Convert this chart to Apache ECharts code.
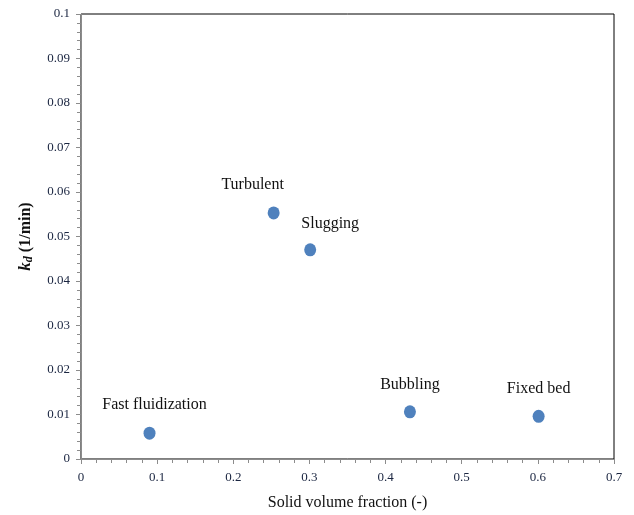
<!DOCTYPE html>
<html>
<head>
<meta charset="utf-8">
<script src="https://cdn.jsdelivr.net/npm/echarts@6/dist/echarts.min.js"></script>
<style>
  html, body { margin: 0; padding: 0; background: #fff; }
  #chart { width: 634px; height: 515px; }
</style>
</head>
<body>
<div id="chart"></div>
<script>
// Flow regimes and their measured deactivation constants
const regimes = ['Fast fluidization', 'Turbulent', 'Slugging', 'Bubbling', 'Fixed bed'];
const solidFraction = [0.09, 0.253, 0.301, 0.432, 0.601];
const kd = [0.0058, 0.0553, 0.047, 0.0106, 0.0096];

// Where each regime name sits relative to its marker
const labelOffsets = {
  'Fast fluidization': [5, -28],
  'Turbulent': [-21, -28],
  'Slugging': [20, -26],
  'Bubbling': [0, -27],
  'Fixed bed': [0, -27]
};

const serif = '"Liberation Serif", "Times New Roman", serif';

const points = regimes.map((name, i) => ({
  name: name,
  value: [solidFraction[i], kd[i]],
  label: { offset: labelOffsets[name] }
}));

const chart = echarts.init(document.getElementById('chart'), null, { renderer: 'canvas' });
chart.setOption({
  animation: false,
  backgroundColor: '#fff',
  grid: {
    left: 81, right: 20, top: 14, bottom: 56,
    outerBoundsMode: 'none',
    containLabel: false,
    show: true, borderColor: '#000', borderWidth: 1, backgroundColor: 'transparent'
  },
  xAxis: {
    type: 'value', min: 0, max: 0.7, interval: 0.1,
    name: 'Solid volume fraction (-)',
    nameLocation: 'middle', nameGap: 36,
    nameTextStyle: { fontFamily: serif, fontSize: 16, color: '#111' },
    axisLine: { show: true, lineStyle: { color: '#8c8c8c', width: 1 } },
    axisTick: { show: true, inside: false, length: 5, lineStyle: { color: '#8c8c8c' } },
    minorTick: { show: true, splitNumber: 5, length: 4, lineStyle: { color: '#8c8c8c' } },
    axisLabel: { fontFamily: serif, fontSize: 13, color: '#1a2540', margin: 12,
      formatter: v => String(+v.toFixed(2)) },
    splitLine: { show: false }
  },
  yAxis: {
    type: 'value', min: 0, max: 0.1, interval: 0.01,
    name: '{k|k}{d|d}{n| (1/min)}',
    nameLocation: 'middle', nameGap: 46, nameRotate: 90,
    nameTextStyle: {
      fontFamily: serif, fontSize: 16, color: '#111', fontWeight: 'bold',
      rich: {
        k: { fontFamily: serif, fontSize: 17, fontWeight: 'bold', fontStyle: 'italic', color: '#111' },
        d: { fontFamily: serif, fontSize: 12, fontWeight: 'bold', fontStyle: 'italic', color: '#111', verticalAlign: 'bottom', padding: [7, 0, 0, 0] },
        n: { fontFamily: serif, fontSize: 16, fontWeight: 'bold', color: '#111' }
      }
    },
    axisLine: { show: true, lineStyle: { color: '#8c8c8c', width: 1 } },
    axisTick: { show: true, inside: false, length: 5, lineStyle: { color: '#8c8c8c' } },
    minorTick: { show: true, splitNumber: 5, length: 4, lineStyle: { color: '#8c8c8c' } },
    axisLabel: { fontFamily: serif, fontSize: 13, color: '#1a2540', margin: 11,
      formatter: v => String(+v.toFixed(2)) },
    splitLine: { show: false }
  },
  series: [{
    type: 'scatter',
    data: points,
    symbol: 'circle',
    symbolSize: [12, 13],
    itemStyle: { color: '#4f81bd', opacity: 1 },
    label: {
      show: true,
      position: 'inside',
      formatter: p => p.name,
      fontFamily: serif, fontSize: 16, color: '#111', opacity: 1
    }
  }]
});
</script>
</body>
</html>
